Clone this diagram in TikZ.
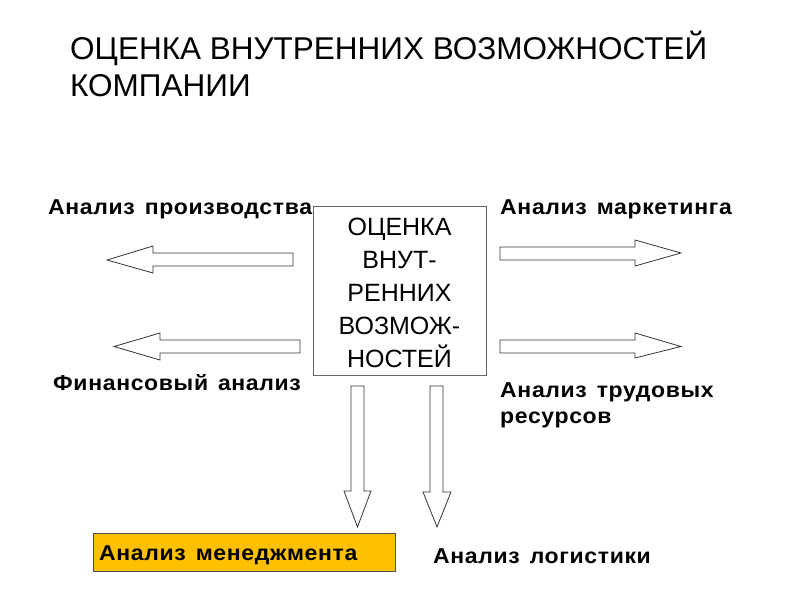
\documentclass[tikz,border=0pt]{standalone}
\usepackage{fontspec}
\setmainfont{Liberation Sans}
\newfontfamily\lblfont[FakeStretch=1.07,LetterSpace=3,WordSpace=1.4]{Liberation Sans}
\begin{document}
\begin{tikzpicture}[x=1pt,y=-1pt,
  blockarrow/.style={draw=black!80,line width=0.8pt,fill=white,line join=miter},
  lbl/.style={font=\lblfont\bfseries\fontsize{21.5}{26}\selectfont,inner sep=0pt,anchor=base west,align=left},
  ttl/.style={font=\fontsize{31.5}{37}\selectfont,inner sep=0pt,anchor=base west,align=left}]
\useasboundingbox (0,0) rectangle (800,600);
% title
\node[ttl] (title) at (70,96) {ОЦЕНКА ВНУТРЕННИХ ВОЗМОЖНОСТЕЙ\\КОМПАНИИ};
% central box
\node[draw=black!60,line width=0.8pt,minimum width=173pt,minimum height=169pt,inner sep=0pt] (box) at (399.5,290.5) {};
\node[font=\fontsize{25}{33}\selectfont,align=center,inner sep=0pt] (boxtext) at (399.5,293) {ОЦЕНКА\\ВНУТ-\\РЕННИХ\\ВОЗМОЖ-\\НОСТЕЙ};
% left arrows
\draw[blockarrow] (293,253) -- (153,253) -- (153,246) -- (107,260) -- (153,273) -- (153,266) -- (293,266) -- cycle;
\draw[blockarrow] (300,340) -- (160,340) -- (160,333) -- (114,346.5) -- (160,360) -- (160,353) -- (300,353) -- cycle;
% right arrows
\draw[blockarrow] (500,247) -- (635,247) -- (635,240) -- (681,253) -- (635,266) -- (635,260) -- (500,260) -- cycle;
\draw[blockarrow] (500,340) -- (635,340) -- (635,333) -- (681,346.5) -- (635,358) -- (635,353) -- (500,353) -- cycle;
% down arrows
\draw[blockarrow] (351,386) -- (364,386) -- (364,491) -- (371,491) -- (357.5,527) -- (344,491) -- (351,491) -- cycle;
\draw[blockarrow] (430,386) -- (443,386) -- (443,492) -- (451,492) -- (437,527) -- (423,492) -- (430,492) -- cycle;
% labels
\node[lbl] (prod) at (48,214) {Анализ производства};
\node[lbl] (mark) at (500,214) {Анализ маркетинга};
\node[lbl] (fin) at (53,390) {Финансовый анализ};
\node[lbl] (trud) at (500,423) {Анализ трудовых\\ресурсов};
\node[draw=black!70,fill={rgb,255:red,255;green,192;blue,0},minimum width=302pt,minimum height=38pt,inner sep=0pt] (mgmtbox) at (244,552) {};
\node[lbl] (mgmt) at (99,560) {Анализ менеджмента};
\node[lbl] (log) at (433,563) {Анализ логистики};
\end{tikzpicture}
\end{document}
